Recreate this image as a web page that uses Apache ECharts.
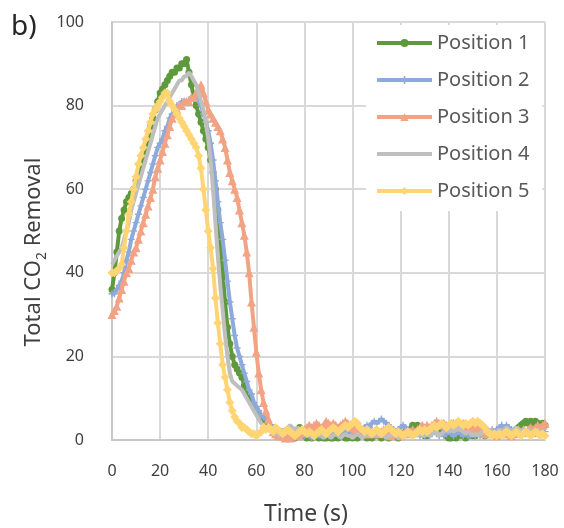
<!DOCTYPE html>
<html>
<head>
<meta charset="utf-8">
<script src="https://cdn.jsdelivr.net/npm/echarts@6/dist/echarts.min.js"></script>
<style>
html,body{margin:0;padding:0;background:#fff;}
#chart{width:564px;height:528px;}
</style>
</head>
<body>
<div id="chart"></div>
<script>
// Time step of the samples (s); sample i is at time i*DT
const DT = 1;
const seriesNames = ['Position 1', 'Position 2', 'Position 3', 'Position 4', 'Position 5'];
const xTicks = [0, 20, 40, 60, 80, 100, 120, 140, 160, 180];
const yTicks = [0, 20, 40, 60, 80, 100];

const position1 = [36,
  40,45,50,53,55,57,58,59,60,62,
  64,66,68,70,72,75,77,79,81,83,
  84,85,86,87,88,88,89,89,90,90,
  91,88,85,82,80,78,76,74,72,70,
  67,64,60,55,48,40,33,27,23,20,
  18,17,16,15,13,11,10,9,8,7,
  6,5,5,4,4,3,3,2,2,2,
  1.5,1,1.5,2,1,0.5,1.5,3,2,1,
  0.5,1,0.5,1,1.5,0.5,1,0.5,0.5,1,
  0.5,0.5,1,0.5,1,1.5,0.5,0.5,1,0.5,
  1,0.5,1,1.5,1,0.5,1,0.5,1,1.5,
  1,0.5,1,1,0.5,1,1.5,1,0.5,1,
  1.5,2,1.5,2.5,3.5,3,3.5,2,1.5,1,
  1,1.5,2.5,3.5,4,3.5,2.5,1.5,1,0.5,
  0.5,1,0.5,1,1.5,1,0.5,1,1.5,1,
  1,1.5,2,1.5,1,1.5,2,1.5,1,1.5,
  2,1.5,2,2.5,2,1.5,2,2.5,3,3.5,
  4,4.5,4,4.5,4,4.5,4,3.5,4,3.5];

const position2 = [35,
  35,36,37,38,40,43,45,48,50,52,
  54,56,58,60,62,64,66,68,70,71,
  72,74,75,77,78,79,80,80,81,81,
  81,81,82,82,82,81,80,78,76,74,
  71,67,62,57,52,48,43,38,33,29,
  25,22,20,18,16,14,12,11,9,8,
  7,6,5.5,5,4,3.5,3,2.5,2,1.5,
  2,1.5,1,1.5,1,0.5,1,1.5,1,1,
  1.5,1,0.5,1,1.5,1,1,1.5,2,1.5,
  1,1.5,2,1.5,1,1.5,2,2.5,2,1.5,
  2,2.5,2,2.5,3,3.5,3,4,4.5,4,
  4.5,5,4.5,4,3.5,3,2.5,2,2.5,3,
  3.5,3,2.5,2,1.5,2,1.5,1,1.5,1,
  1.5,1,1.5,2,1.5,1,1.5,1,1.5,2,
  1.5,1,1.5,2,1.5,1,1.5,1,1,1.5,
  1,1.5,1,1.5,1,1.5,2,2.5,2,2.5,
  3,3.5,3,3.5,3,2.5,2,1.5,2,1.5,
  2,1.5,2,2.5,2,1.5,2,2.5,2,2];

const position3 = [30,
  31,32,34,36,38,40,41,43,45,46,
  48,50,52,54,56,58,60,63,65,67,
  69,71,73,75,77,78,79,80,80,81,
  81,81,82,82,83,84,85,83,81,79,
  78,77,76,75,74,72,70,67,64,62,
  60,58,55,52,49,45,40,33,27,21,
  16,12,9,7,5,3,2,1.5,1,1,
  1,0.5,1,0.5,1,1.5,1,1.5,2,2.5,
  3,3.5,3,3.5,4,3.5,3,3.5,4.5,4,
  3.5,4,3.5,3,3.5,4,4.5,4,3.5,3,
  2.5,2,2.5,2,1.5,2,1.5,2,1.5,2,
  1.5,2,2.5,2,1.5,1,1.5,2,1.5,1,
  1.5,2,1.5,2,2.5,2,2.5,3,3.5,3,
  3.5,3,3.5,4,4.5,4,3.5,4,3.5,3,
  3.5,4,3.5,3,3.5,4,3.5,3,3.5,3,
  2.5,3,2.5,2,1.5,2,1.5,2,1.5,1,
  1.5,2,1.5,2,1.5,1,1.5,2,2.5,2,
  2.5,2,2.5,3,2.5,3,3.5,3,3.5,4];

const position4 = [42,
  43,44,45,46,48,50,52,55,57,59,
  61,63,65,67,69,71,73,75,77,78,
  79,80,81,82,83,84,85,86,86,87,
  87,88,87,86,85,83,81,79,76,72,
  67,60,52,44,37,31,25,20,16,14,
  13.5,13,12.5,12,11,10,9,8,7,6,
  5,4,3.5,3,2.5,2,2,1.5,1.5,1,
  2,2.5,3,3.5,3,2.5,3,2.5,2,1.5,
  1,1.5,1,0.5,1,1.5,1,0.5,1,1,
  0.5,1,1.5,1,0.5,1,1.5,1,1,0.5,
  1,1.5,1,0.5,1,1.5,1,1,1.5,1,
  1,1.5,1,0.5,1,1,1.5,1,0.5,1,
  1.5,1,1,1.5,2,1.5,1,1.5,1,1,
  1.5,1,1.5,2,1.5,1,1.5,2,2.5,2,
  2.5,2,2.5,3,2.5,2,1.5,2,1.5,1,
  1.5,1,1.5,2,2.5,2,2.5,2,1.5,2,
  2.5,2,2.5,3,2.5,2,2.5,3,2.5,2,
  2.5,2,2.5,2,1.5,2,2.5,2,1.5,2];

const position5 = [40,
  40,40.5,41,42,46,50,54,57,60,63,
  66,68,70,72,74,76,78,79,80,81,
  82,83,83,81,80,79,78,77,76,75,
  74,73,72,71,70,68,65,60,55,50,
  46,41,34,28,23,18,15,12,9,7,
  5.5,4.5,4,3,3,2.5,2,1.5,1.5,1,
  1.5,2,3,2.5,3,2.5,2,3,2.5,2,
  1.5,2,2.5,2,1.5,1,1.5,2,2.5,2,
  1.5,2,1.5,1,1.5,2,2.5,2,1.5,2,
  2.5,3,2.5,2,2.5,3,3.5,3,3.5,4,
  4.5,4,3,2.5,2,2.5,2,1.5,2,2.5,
  2,1.5,2,2.5,3,2.5,2,1.5,2,1.5,
  1,1.5,2,1.5,1,1.5,2,2.5,2,2.5,
  2,2.5,3,3.5,3,3.5,4,3.5,3,3.5,
  4,3.5,4,4.5,4,3.5,4,3.5,4,4.5,
  4,4.5,4,3.5,3,2,1.5,1,1.5,1,
  1.5,1,1.5,2,1.5,1,1.5,2,1.5,1,
  1.5,2,1.5,1,1.5,2,1.5,1,1.5,1];

const seriesValues = [position1, position2, position3, position4, position5];
const colors = ['#5E9A3C', '#8EA9DB', '#F2A384', '#BFBFBF', '#FFD574'];
const plusPath = 'path://M4,0 L6,0 L6,4 L10,4 L10,6 L6,6 L6,10 L4,10 L4,6 L0,6 L0,4 L4,4 Z';
const symbols = ['circle', plusPath, 'triangle', 'none', 'diamond'];
const symbolSizes = [7, 7, 9, 0, 9];

const FONT = '"Noto Sans", "DejaVu Sans", sans-serif';
const chart = echarts.init(document.getElementById('chart'), null, {renderer: 'canvas'});

const series = seriesNames.map((name, k) => ({
  name: name,
  type: 'line',
  data: seriesValues[k].map((v, i) => [i * DT, v]),
  symbol: symbols[k],
  symbolSize: symbolSizes[k],
  showSymbol: symbols[k] !== 'none',
  showAllSymbol: true,
  smooth: false,
  sampling: null,
  itemStyle: {color: colors[k]},
  lineStyle: {color: colors[k], width: 4},
  emphasis: {disabled: true},
  animation: false,
  z: 2 + k
}));

chart.setOption({
  animation: false,
  backgroundColor: '#ffffff',
  color: colors,
  grid: {left: 112, right: 19, top: 22, bottom: 88, containLabel: false},
  xAxis: {
    type: 'value',
    min: xTicks[0], max: xTicks[xTicks.length - 1], interval: 20,
    axisLine: {show: true, lineStyle: {color: '#C8C8C8', width: 2}},
    axisTick: {show: false},
    axisLabel: {fontFamily: FONT, fontSize: 16, color: '#404040', margin: 23},
    splitLine: {show: true, lineStyle: {color: '#D9D9D9', width: 2}}
  },
  yAxis: {
    type: 'value',
    min: yTicks[0], max: yTicks[yTicks.length - 1], interval: 20,
    axisLine: {show: true, lineStyle: {color: '#C8C8C8', width: 2}},
    axisTick: {show: false},
    axisLabel: {fontFamily: FONT, fontSize: 16, color: '#404040', margin: 28},
    splitLine: {show: true, lineStyle: {color: '#D9D9D9', width: 2}}
  },
  legend: {
    orient: 'vertical',
    left: 366, top: 25,
    padding: [8, 13, 10, 9],
    itemWidth: 55, itemHeight: 10, itemGap: 17,
    backgroundColor: '#ffffff',
    lineStyle: {width: 4},
    textStyle: {fontFamily: FONT, fontSize: 20, color: '#595959'},
    data: [
      seriesNames[0], seriesNames[1], seriesNames[2],
      {name: seriesNames[3], itemStyle: {opacity: 0}},
      seriesNames[4]
    ]
  },
  graphic: [
    {
      type: 'text', left: 11, top: 13, z: 100,
      style: {text: 'b)', fontFamily: FONT, fontSize: 28, fill: '#262626'}
    },
    {
      type: 'text', x: 306, y: 514, z: 100,
      style: {text: 'Time (s)', fontFamily: FONT, fontSize: 23, fill: '#404040',
              align: 'center', verticalAlign: 'middle'}
    },
    {
      type: 'text', x: 34, y: 252, rotation: Math.PI / 2, z: 100,
      style: {
        text: '{n|Total CO}{s|2}{n| Removal}',
        align: 'center', verticalAlign: 'middle',
        rich: {
          n: {fontFamily: FONT, fontSize: 22, fill: '#404040', lineHeight: 30, verticalAlign: 'middle'},
          s: {fontFamily: FONT, fontSize: 14, fill: '#404040', lineHeight: 30, verticalAlign: 'bottom', padding: [12, 0, 0, 0]}
        }
      }
    }
  ],
  series: series
});
</script>
</body>
</html>
